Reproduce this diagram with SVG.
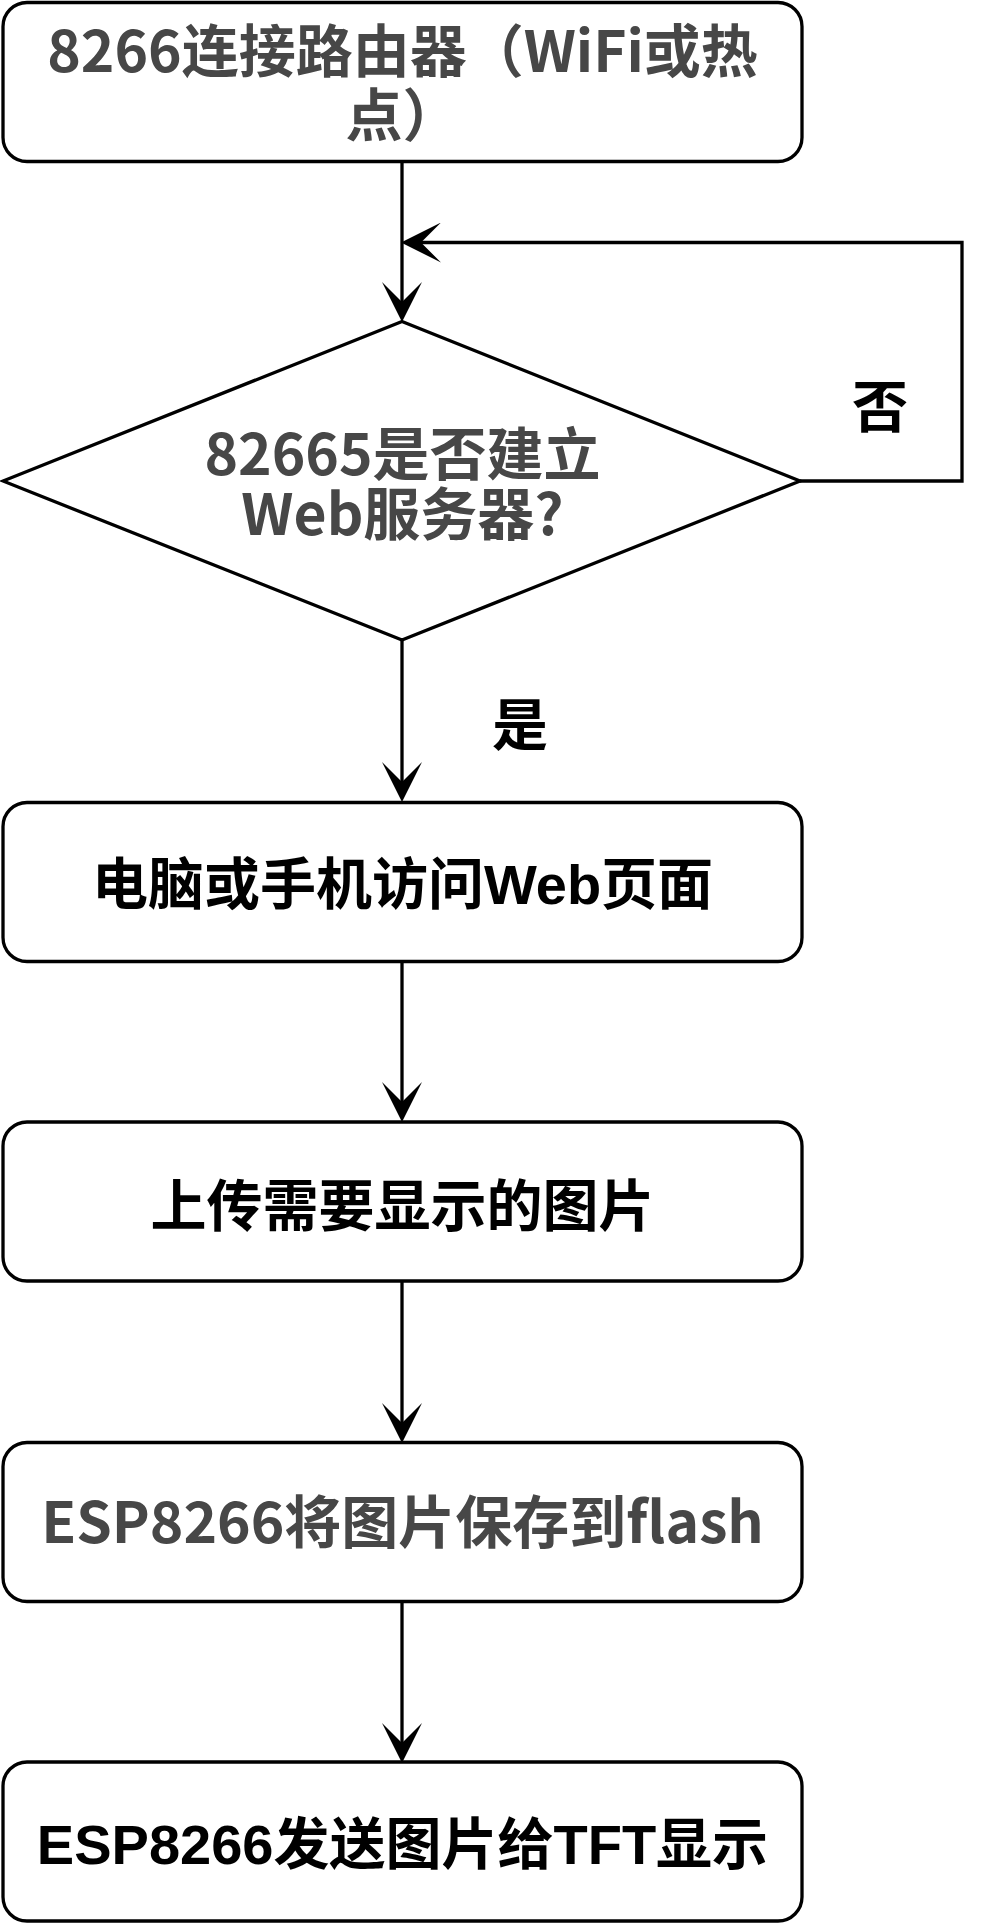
<svg xmlns="http://www.w3.org/2000/svg" width="996" height="1924" viewBox="0 0 996 1924">
<style>
.box{fill:#ffffff;stroke:#000000;stroke-width:3.3}
.edge{fill:none;stroke:#000000;stroke-width:3.3}
.g{font-family:"Noto Sans CJK SC","Noto Sans",sans-serif;font-weight:bold;font-size:57px;fill:#474747;text-anchor:middle}
.k{font-family:"Liberation Sans","Noto Sans CJK SC",sans-serif;font-weight:bold;font-size:56px;fill:#000000;text-anchor:middle}
.lbl{font-family:"Noto Sans CJK SC",sans-serif;font-weight:bold;font-size:56px;fill:#000000;text-anchor:middle}
</style>
<defs>
<marker id="arr" markerUnits="userSpaceOnUse" markerWidth="40" markerHeight="40" viewBox="0 0 36 36" refX="18" refY="18" orient="auto">
<path d="M0,0 L36,18 L0,36 L18,18 Z" fill="#000000"/>
</marker>
</defs>
<g id="connectors">
<path class="edge" d="M402,161.5 L402,302" marker-end="url(#arr)"/>
<path class="edge" d="M800,481 L962,481 L962,242.5 L421,242.5" marker-end="url(#arr)"/>
<path class="edge" d="M402,640 L402,782" marker-end="url(#arr)"/>
<path class="edge" d="M402,961.5 L402,1102" marker-end="url(#arr)"/>
<path class="edge" d="M402,1281 L402,1423" marker-end="url(#arr)"/>
<path class="edge" d="M402,1602 L402,1743" marker-end="url(#arr)"/>
</g>
<g id="node1">
<rect class="box" x="3" y="2.5" width="799" height="159" rx="24" ry="24"/>
<text class="g" x="402.5" y="72">8266连接路由器（WiFi或热</text>
<text class="g" x="402.5" y="136">点）</text>
</g>
<g id="node2">
<polygon class="box" points="402,321.5 800,481 402,640 3,481"/>
<text class="g" x="402.5" y="475">82665是否建立</text>
<text class="g" x="402.5" y="535">Web服务器?</text>
</g>
<g id="label-no">
<text class="lbl" x="880" y="427">否</text>
</g>
<g id="label-yes">
<text class="lbl" x="520" y="745">是</text>
</g>
<g id="node3">
<rect class="box" x="3" y="802.5" width="799" height="159" rx="24" ry="24"/>
<text class="k" x="402.5" y="904">电脑或手机访问Web页面</text>
</g>
<g id="node4">
<rect class="box" x="3" y="1122" width="799" height="159" rx="24" ry="24"/>
<text class="k" x="402.5" y="1226">上传需要显示的图片</text>
</g>
<g id="node5">
<rect class="box" x="3" y="1442.5" width="799" height="159" rx="24" ry="24"/>
<text class="g" x="402.5" y="1543">ESP8266将图片保存到flash</text>
</g>
<g id="node6">
<rect class="box" x="3" y="1762" width="799" height="159" rx="24" ry="24"/>
<text class="k" x="402.5" y="1864">ESP8266发送图片给TFT显示</text>
</g>
</svg>
